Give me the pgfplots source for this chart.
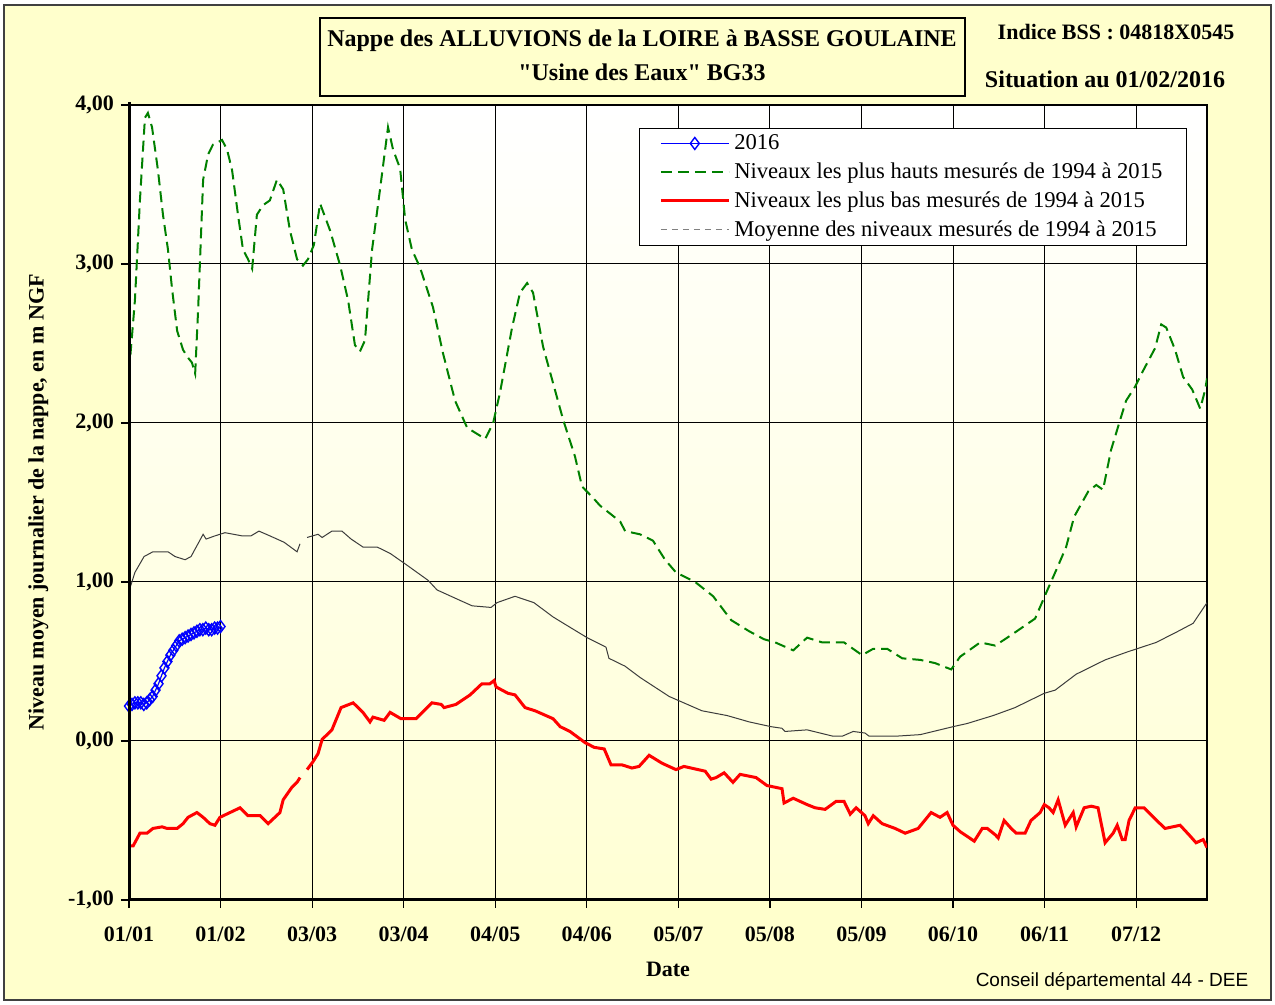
\documentclass[border=0pt]{standalone}
\usepackage{fontspec}
\setmainfont{Liberation Serif}
\setsansfont{Liberation Sans}
\newfontfamily\rawserif{Liberation Serif}[Ligatures=TeXOff]
\usepackage{pgfplots}
\pgfplotsset{compat=1.18}
\definecolor{bgyellow}{RGB}{255,255,204}
\definecolor{plotbottom}{RGB}{255,255,212}
\definecolor{dkgreen}{RGB}{0,128,0}
\definecolor{meangray}{RGB}{60,60,60}

\begin{document}
\begin{tikzpicture}
\useasboundingbox (0pt,0pt) rectangle (637.5pt,502.5pt);
\fill[white] (0pt,0pt) rectangle (637.5pt,502.5pt);
\filldraw[fill=bgyellow, draw=black!75, line width=0.9pt] (2pt,2.5pt) rectangle (635.5pt,500pt);

% titre
\filldraw[fill=bgyellow, draw=black, line width=0.8pt] (160pt,454.5pt) rectangle (482.5pt,493.5pt);
\node[font=\bfseries\fontsize{12}{14}\selectfont] at (321pt,482pt) {Nappe des ALLUVIONS de la LOIRE à BASSE GOULAINE};
\node[font=\bfseries\fontsize{12}{14}\selectfont] at (321pt,466.5pt) {{\rawserif\bfseries "}Usine des Eaux{\rawserif\bfseries "} BG33};
\node[font=\bfseries\fontsize{11}{13}\selectfont] at (558pt,486.5pt) {Indice BSS : 04818X0545};
\node[font=\bfseries\fontsize{12}{14}\selectfont] at (552.5pt,463pt) {Situation au 01/02/2016};

\begin{axis}[
  at={(64.5pt,52.5pt)}, anchor=south west,
  width=539pt, height=397.5pt, scale only axis,
  xmin=0, xmax=365, ymin=-1, ymax=4,
  xtick={0,31,62,93,124,155,186,217,248,279,310,341},
  xticklabels={01/01,01/02,03/03,03/04,04/05,04/06,05/07,05/08,05/09,06/10,06/11,07/12},
  ytick={-1,0,1,2,3,4},
  yticklabels={{-1,00},{0,00},{1,00},{2,00},{3,00},{4,00}},
  tick label style={font=\bfseries\fontsize{11}{13}\selectfont},
  xticklabel style={yshift=-6pt},
  xtick pos=left, ytick pos=left,
  tick align=outside, major tick length=4pt,
  tick style={black, line width=0.6pt},
  grid=major, major grid style={black, line width=0.5pt},
  axis line style={black, line width=0.7pt},
  axis background/.style={shade, top color=white, bottom color=plotbottom},
  xlabel={Date}, xlabel style={font=\bfseries\fontsize{11}{13}\selectfont, yshift=-3pt},
  ylabel={Niveau moyen journalier de la nappe, en m NGF},
  ylabel style={font=\bfseries\fontsize{11}{13}\selectfont, yshift=3pt},
  unbounded coords=jump,
  legend style={at={(0.473,0.971)}, anchor=north west, draw=black, fill=white,
    font=\fontsize{11.3}{13}\selectfont, cells={anchor=west}, row sep=1.1pt,
    inner xsep=10pt, inner ysep=1pt},
  legend image code/.code={\draw[mark repeat=2,mark phase=2,#1] plot coordinates {(0pt,0pt) (17pt,0pt) (34pt,0pt)};},
  clip=true,
]
% moyenne 1994-2015
\addplot[meangray, line width=0.5pt, forget plot] coordinates {
(0.3,0.96) (2.0,1.06) (5.1,1.16) (8.1,1.19) (13.2,1.19) (15.6,1.16) (19.0,1.14) (21.0,1.16)
(25.1,1.30) (26.1,1.27) (29.1,1.29) (32.5,1.31) (38.3,1.29) (41.3,1.29) (44.0,1.32) (47.7,1.29)
(52.5,1.25) (56.9,1.19) (57.9,1.24) (59.1,nan)
(60.3,1.28) (64.0,1.30) (65.4,1.28) (68.7,1.32) (72.1,1.32) (75.2,1.27) (79.2,1.22) (84.0,1.22)
(88.4,1.18) (93.8,1.11) (101.3,1.01) (104.3,0.95) (111.4,0.89) (116.2,0.85) (122.6,0.84) (124.6,0.87)
(130.7,0.91) (137.1,0.87) (143.6,0.78) (148.0,0.73) (155.1,0.65) (161.5,0.59) (162.5,0.52) (168.0,0.47)
(173.0,0.40) (182.9,0.28) (194.0,0.19) (202.5,0.16) (210.0,0.12) (217.4,0.09) (221.1,0.08) (222.1,0.06)
(229.6,0.07) (238.4,0.03) (241.5,0.03) (245.2,0.06) (249.2,0.05) (250.6,0.03) (259.4,0.03) (267.9,0.04)
(279.0,0.09) (283.8,0.11) (292.6,0.16) (300.0,0.21) (309.9,0.30) (313.6,0.32) (320.7,0.42) (330.5,0.51)
(338.0,0.56) (347.8,0.62) (355.2,0.69) (360.3,0.74) (365,0.87)
};
% 2016
\addplot[blue, line width=0.6pt, mark=diamond, mark size=3pt, mark options={solid, fill=none, line width=0.7pt}] coordinates {
(0,0.22) (1,0.23) (2,0.24) (3,0.24) (4,0.24) (5,0.23) (6,0.24) (7,0.26) (8,0.28) (9,0.32)
(10,0.36) (11,0.41) (12,0.46) (13,0.50) (14,0.54) (15,0.57) (16,0.60) (17,0.63) (18,0.64) (19,0.65)
(20,0.66) (21,0.67) (22,0.68) (23,0.69) (24,0.70) (25,0.70) (26,0.71) (27,0.70) (28,0.70) (29,0.71)
(30,0.71) (31,0.72)
};
\addlegendentry{2016}
% plus hauts
\addplot[dkgreen, line width=1pt, dash pattern=on 5.5pt off 3pt] coordinates {
(0,2.32) (2.0,2.77) (3.7,3.40) (5.4,3.92) (6.4,3.95) (7.8,3.86) (9.8,3.59) (11.5,3.31)
(13.2,3.09) (14.6,2.84) (16.3,2.58) (18.3,2.46) (20.0,2.41) (21.3,2.38) (22.4,2.31) (23.4,2.71)
(25.1,3.53) (26.8,3.69) (28.4,3.75) (31.5,3.78) (33.2,3.72) (34.9,3.59) (36.9,3.31) (38.6,3.09)
(40.3,3.03) (41.7,2.97) (43.3,3.31) (45.4,3.37) (47.7,3.40) (50.1,3.53) (52.2,3.47) (54.5,3.21)
(56.9,3.03) (58.9,2.99) (60.6,3.03) (62.6,3.12) (64.7,3.38) (68.1,3.21) (71.5,2.99) (74.2,2.77)
(76.5,2.49) (78.2,2.45) (79.9,2.52) (82.3,3.09) (85.0,3.47) (87.7,3.86) (89.4,3.72) (91.8,3.60)
(93.5,3.28) (95.8,3.09) (98.5,2.98) (102.9,2.73) (106.3,2.44) (110.4,2.14) (114.5,1.97) (120.6,1.90)
(123.3,2.00) (125.6,2.19) (129.7,2.60) (132.4,2.82) (134.8,2.88) (136.8,2.82) (140.2,2.48) (143.6,2.25)
(147.0,2.02) (151.0,1.79) (153.4,1.60) (157.1,1.53) (159.5,1.48) (166.3,1.38) (168.0,1.32) (173.0,1.30)
(177.4,1.26) (181.5,1.14) (185.2,1.06) (191.7,1.00) (197.8,0.91) (203.9,0.76) (210.0,0.69) (215.0,0.64)
(218.8,0.62) (224.9,0.57) (229.6,0.65) (234.7,0.62) (242.1,0.62) (248.2,0.54) (252.0,0.58) (256.7,0.58)
(261.8,0.52) (267.9,0.51) (272.9,0.49) (278.4,0.45) (281.4,0.53) (288.2,0.62) (293.3,0.60) (299.0,0.67)
(306.8,0.77) (310.5,0.93) (314.3,1.09) (317.3,1.22) (320.0,1.41) (324.8,1.57) (327.5,1.61) (329.8,1.58)
(332.5,1.83) (335.6,2.02) (337.6,2.14) (340.7,2.23) (343.4,2.33) (347.4,2.47) (349.5,2.62) (351.2,2.60)
(354.2,2.46) (356.9,2.29) (360.0,2.21) (362.7,2.09) (364.4,2.21) (365,2.28)
};
\addlegendentry{Niveaux les plus hauts mesurés de 1994 à 2015}
% plus bas
\addplot[red, line width=1.5pt] coordinates {
(0.3,-0.66) (1.4,-0.66) (3.7,-0.58) (6.1,-0.58) (8.1,-0.55) (11.2,-0.54) (12.9,-0.55) (16.3,-0.55)
(18.3,-0.52) (20.0,-0.48) (23.0,-0.45) (25.1,-0.48) (27.4,-0.52) (29.1,-0.53) (30.8,-0.48) (34.2,-0.45)
(37.6,-0.42) (40.3,-0.47) (44.4,-0.47) (47.1,-0.52) (51.1,-0.45) (52.2,-0.37) (55.2,-0.29) (56.9,-0.26)
(57.9,-0.23) (59.1,nan)
(60.3,-0.18) (62.3,-0.13) (64.0,-0.08) (65.4,0.01) (68.7,0.07) (71.8,0.21) (75.9,0.24) (79.2,0.18)
(81.6,0.12) (82.6,0.15) (86.4,0.13) (88.4,0.18) (92.1,0.14) (97.2,0.14) (102.6,0.24) (105.7,0.23)
(106.7,0.21) (110.7,0.23) (115.5,0.29) (119.5,0.36) (122.2,0.36) (123.6,0.38) (124.3,0.34) (128.3,0.30)
(130.7,0.29) (134.1,0.21) (137.5,0.19) (143.6,0.14) (146.0,0.09) (149.3,0.06) (154.4,-0.01) (157.5,-0.04)
(160.9,-0.05) (163.2,-0.15) (166.9,-0.15) (170.3,-0.17) (172.7,-0.16) (176.1,-0.09) (180.5,-0.14) (185.2,-0.18)
(187.9,-0.16) (195.1,-0.19) (197.1,-0.24) (198.8,-0.23) (201.5,-0.20) (204.5,-0.26) (206.9,-0.21) (212.3,-0.23)
(216.0,-0.28) (221.1,-0.30) (221.8,-0.39) (224.9,-0.36) (229.6,-0.40) (232.3,-0.42) (235.7,-0.43) (239.4,-0.38)
(242.1,-0.38) (244.2,-0.46) (246.2,-0.42) (249.2,-0.47) (250.3,-0.52) (252.0,-0.47) (255.0,-0.52) (259.4,-0.55)
(262.8,-0.58) (267.2,-0.55) (271.6,-0.45) (274.6,-0.48) (277.0,-0.45) (279.0,-0.53) (281.4,-0.57) (283.8,-0.60)
(286.2,-0.63) (288.9,-0.55) (290.6,-0.55) (293.3,-0.59) (294.3,-0.61) (296.3,-0.50) (298.7,-0.55) (300.4,-0.58)
(303.4,-0.58) (305.4,-0.50) (308.5,-0.45) (309.9,-0.40) (311.5,-0.42) (312.9,-0.45) (314.6,-0.37) (317.0,-0.53)
(319.7,-0.45) (320.7,-0.54) (323.4,-0.42) (325.8,-0.41) (328.1,-0.42) (330.5,-0.64) (333.2,-0.58) (334.6,-0.53)
(336.3,-0.62) (337.3,-0.62) (338.6,-0.50) (340.7,-0.42) (343.7,-0.42) (347.4,-0.49) (350.8,-0.55) (355.9,-0.53)
(358.9,-0.59) (361.3,-0.64) (363.7,-0.62) (365,-0.67)
};
\addlegendentry{Niveaux les plus bas mesurés de 1994 à 2015}
\addlegendimage{gray, line width=0.6pt, dash pattern=on 3pt off 2.5pt}
\addlegendentry{Moyenne des niveaux mesurés de 1994 à 2015}
\end{axis}
% axes epais gauche et bas
\draw[black, line width=1.5pt] (64.5pt,451.5pt) -- (64.5pt,52.5pt) -- (603.5pt,52.5pt);

\node[font=\sffamily\fontsize{9.5}{11}\selectfont] at (556pt,12pt) {Conseil départemental 44 - DEE};
\end{tikzpicture}
\end{document}
